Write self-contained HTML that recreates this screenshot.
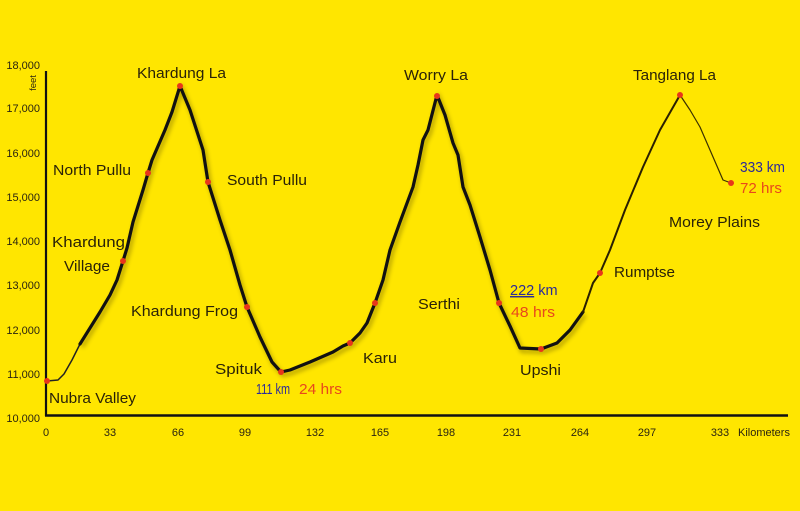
<!DOCTYPE html>
<html>
<head>
<meta charset="utf-8">
<style>
html,body{margin:0;padding:0;background:#FFE600;}
svg{display:block;}
.ax{font-family:"Liberation Sans",Arial,sans-serif;font-size:11px;fill:#2a2410;}
.lb{font-family:"Liberation Sans",Arial,sans-serif;font-size:14.5px;fill:#2a2208;}
.bl{font-family:"Liberation Sans",Arial,sans-serif;font-size:14.5px;fill:#2b2a9a;}
.rd{font-family:"Liberation Sans",Arial,sans-serif;font-size:14.5px;fill:#e8481c;}
</style>
</head>
<body>
<svg width="800" height="511" viewBox="0 0 800 511" xmlns="http://www.w3.org/2000/svg">
<defs>
<filter id="sh" x="-10%" y="-10%" width="120%" height="120%">
<feGaussianBlur stdDeviation="2"/>
</filter>
</defs>
<rect x="0" y="0" width="800" height="511" fill="#FFE600"/>

<!-- axes -->
<line x1="46" y1="71" x2="46" y2="416" stroke="#111" stroke-width="2.2"/>
<line x1="45" y1="415.5" x2="788" y2="415.5" stroke="#111" stroke-width="2.4"/>

<!-- y labels -->
<g class="ax" text-anchor="end">
<text x="40" y="69">18,000</text>
<text x="40" y="112">17,000</text>
<text x="40" y="157">16,000</text>
<text x="40" y="201">15,000</text>
<text x="40" y="245">14,000</text>
<text x="40" y="289">13,000</text>
<text x="40" y="334">12,000</text>
<text x="40" y="378">11,000</text>
<text x="40" y="422">10,000</text>
</g>
<text class="ax" style="font-size:9.5px" transform="translate(36,83) rotate(-90)" text-anchor="middle">feet</text>

<!-- x labels -->
<g class="ax" text-anchor="middle">
<text x="46" y="436">0</text>
<text x="110" y="436">33</text>
<text x="178" y="436">66</text>
<text x="245" y="436">99</text>
<text x="315" y="436">132</text>
<text x="380" y="436">165</text>
<text x="446" y="436">198</text>
<text x="512" y="436">231</text>
<text x="580" y="436">264</text>
<text x="647" y="436">297</text>
<text x="720" y="436">333</text>
</g>
<text class="ax" x="738" y="436">Kilometers</text>

<!-- shadow -->
<path d="M80,344 L90,328 L100,312 L110,295 L117,280 L123,261 L127,248 L133,222 L143,190 L148,173 L152,160 L165,130 L172,112 L180,86 L190,110 L203,150 L208,182 L220,220 L230,250 L240,285 L247,307 L260,337 L272,362 L281,372 L290,370 L310,362 L333,352 L343,346 L350,343 L360,333 L367,323 L375,303 L383,280 L390,250 L400,222 L413,187 L418,165 L423,140 L428,130 L437,95 L445,115 L453,143 L458,155 L463,187 L470,205 L480,237 L490,270 L499,303 L510,326 L520,348 L541,349 L557,343 L570,330 L583,312" fill="none" stroke="#6a5a00" stroke-width="4" opacity="0.45" transform="translate(2,3)" filter="url(#sh)"/>

<!-- curve -->
<path d="M47,381 L58,380 L64,374 L72,360 L80,344" fill="none" stroke="#222" stroke-width="1.5" stroke-linejoin="round"/>
<path d="M80,344 L90,328 L100,312 L110,295 L117,280 L123,261 L127,248 L133,222 L143,190 L148,173 L152,160 L165,130 L172,112 L180,86 L190,110 L203,150 L208,182 L220,220 L230,250 L240,285 L247,307 L260,337 L272,362 L281,372 L290,370 L310,362 L333,352 L343,346 L350,343 L360,333 L367,323 L375,303 L383,280 L390,250 L400,222 L413,187 L418,165 L423,140 L428,130 L437,95 L445,115 L453,143 L458,155 L463,187 L470,205 L480,237 L490,270 L499,303 L510,326 L520,348 L541,349 L557,343 L570,330 L583,312" fill="none" stroke="#111" stroke-width="3.2" stroke-linejoin="round" stroke-linecap="round"/>
<path d="M583,312 L593,283 L600,273 L610,250 L625,210 L643,167 L660,130 L680,95" fill="none" stroke="#2a2000" stroke-width="2" stroke-linejoin="round" stroke-linecap="round"/>
<path d="M680,95 L690,110 L700,127 L710,150 L723,180 L731,183" fill="none" stroke="#3a3000" stroke-width="1.2" stroke-linejoin="round"/>

<!-- dots -->
<g fill="#e8361a">
<circle cx="47" cy="381" r="3"/>
<circle cx="123" cy="261" r="3"/>
<circle cx="148" cy="173" r="3"/>
<circle cx="180" cy="86" r="3"/>
<circle cx="208" cy="182" r="3"/>
<circle cx="247" cy="307" r="3"/>
<circle cx="281" cy="372" r="3"/>
<circle cx="350" cy="343" r="3"/>
<circle cx="375" cy="303" r="3"/>
<circle cx="437" cy="96" r="3"/>
<circle cx="499" cy="303" r="3"/>
<circle cx="541" cy="349" r="3"/>
<circle cx="600" cy="273" r="3"/>
<circle cx="680" cy="95" r="3"/>
<circle cx="731" cy="183" r="3"/>
</g>

<!-- labels -->
<g class="lb">
<text x="137" y="78" textLength="89" lengthAdjust="spacingAndGlyphs">Khardung La</text>
<text x="53" y="175" textLength="78" lengthAdjust="spacingAndGlyphs">North Pullu</text>
<text x="227" y="185" textLength="80" lengthAdjust="spacingAndGlyphs">South Pullu</text>
<text x="52" y="247" textLength="73" lengthAdjust="spacingAndGlyphs">Khardung</text>
<text x="64" y="271" textLength="46" lengthAdjust="spacingAndGlyphs">Village</text>
<text x="131" y="316" textLength="107" lengthAdjust="spacingAndGlyphs">Khardung Frog</text>
<text x="215" y="374" textLength="47" lengthAdjust="spacingAndGlyphs">Spituk</text>
<text x="363" y="363" textLength="34" lengthAdjust="spacingAndGlyphs">Karu</text>
<text x="49" y="403" textLength="87" lengthAdjust="spacingAndGlyphs">Nubra Valley</text>
<text x="404" y="80" textLength="64" lengthAdjust="spacingAndGlyphs">Worry La</text>
<text x="418" y="309" textLength="42" lengthAdjust="spacingAndGlyphs">Serthi</text>
<text x="520" y="375" textLength="41" lengthAdjust="spacingAndGlyphs">Upshi</text>
<text x="633" y="80" textLength="83" lengthAdjust="spacingAndGlyphs">Tanglang La</text>
<text x="669" y="227" textLength="91" lengthAdjust="spacingAndGlyphs">Morey Plains</text>
<text x="614" y="277" textLength="61" lengthAdjust="spacingAndGlyphs">Rumptse</text>
</g>
<text class="bl" x="256" y="394" textLength="34" lengthAdjust="spacingAndGlyphs">111 km</text>
<text class="rd" x="299" y="394" textLength="43" lengthAdjust="spacingAndGlyphs">24 hrs</text>
<text class="bl" x="510" y="295"><tspan text-decoration="underline">222</tspan> km</text>
<text class="rd" x="511" y="317" textLength="44" lengthAdjust="spacingAndGlyphs">48 hrs</text>
<text class="bl" x="740" y="172" textLength="45" lengthAdjust="spacingAndGlyphs">333 km</text>
<text class="rd" x="740" y="193" textLength="42" lengthAdjust="spacingAndGlyphs">72 hrs</text>
</svg>
</body>
</html>
